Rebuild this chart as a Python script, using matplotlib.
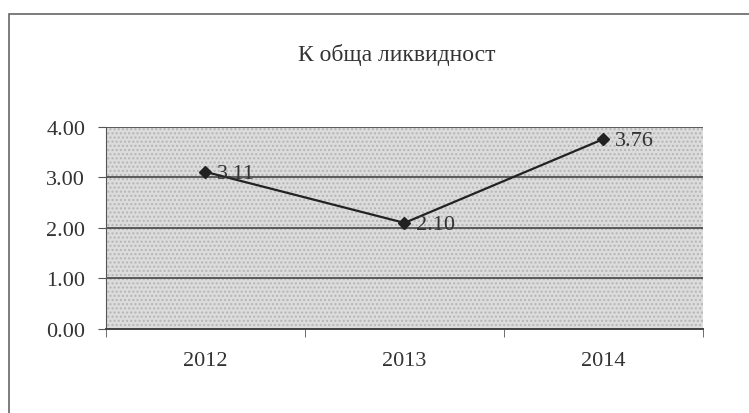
import matplotlib
matplotlib.use("Agg")
import matplotlib.pyplot as plt
from matplotlib.patches import Rectangle

# chart data
years = ["2012", "2013", "2014"]
values = [3.11, 2.10, 3.76]
y_ticks = [0.0, 1.0, 2.0, 3.0, 4.0]
title = "К обща ликвидност"

plt.rcParams["font.family"] = ["Liberation Serif", "DejaVu Serif"]
FS = 16

fig = plt.figure(figsize=(7.49, 4.14), dpi=100)

# outer chart frame like the scanned Excel box
fig.patches.append(Rectangle((0.012, -0.05), 1.05, 1.014, transform=fig.transFigure,
                             fill=False, edgecolor="#666666", linewidth=1.2))

ax = fig.add_axes([0.1415, 0.203, 0.797, 0.488])
ax.set_facecolor("#dcdcdc")
ax.add_patch(Rectangle((0, 0), 1, 1, transform=ax.transAxes, facecolor="none",
                       hatch="....", edgecolor="#b5b5b5", linewidth=0, zorder=0))

x = list(range(len(years)))
ax.plot(x, values, color="#222222", linewidth=1.6, marker="D", markersize=6,
        zorder=3)
for xi, v in zip(x, values):
    ax.annotate(f"{v:.2f}", (xi, v), xytext=(8, -1), textcoords="offset points",
                ha="left", va="center", fontsize=FS, color="#333333")

ax.set_xlim(-0.5, len(years) - 0.5)
ax.set_ylim(0, 4)
ax.set_yticks(y_ticks)
ax.set_yticklabels([f"{t:.2f}" for t in y_ticks])
ax.set_xticks(x)
ax.set_xticklabels(years)
ax.set_xticks([i - 0.5 for i in range(len(years) + 1)], minor=True)
ax.tick_params(axis="x", which="major", length=0, pad=16, labelsize=FS, labelcolor="#333333")
ax.tick_params(axis="x", which="minor", length=6, color="#555555")
ax.tick_params(axis="y", length=6, pad=9, labelsize=FS, labelcolor="#333333", color="#555555")

ax.grid(axis="y", color="#444444", linewidth=1.2)
ax.set_axisbelow(True)
for s in ["top", "right"]:
    ax.spines[s].set_visible(False)
ax.spines["left"].set_color("#555555")
ax.spines["bottom"].set_color("#444444")
ax.spines["bottom"].set_linewidth(1.4)

fig.text(0.53, 0.866, title, ha="center", va="center", fontsize=17, color="#333333")

fig.savefig("out.png", dpi=100)
